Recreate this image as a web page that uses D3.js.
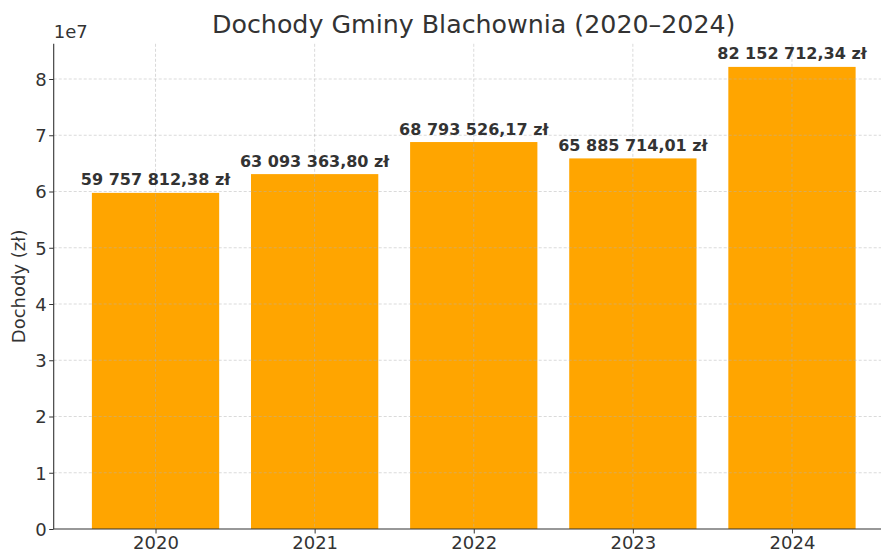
<!DOCTYPE html>
<html><head><meta charset="utf-8">
<script src="https://cdn.jsdelivr.net/npm/d3@7"></script>
<style>body{margin:0;background:#fff}svg{display:block;font-family:"DejaVu Sans",sans-serif}</style>
</head><body>
<svg id="c" width="881" height="552"></svg>
<script>
const years = ["2020","2021","2022","2023","2024"];
const values = [59757812.38, 63093363.80, 68793526.17, 65885714.01, 82152712.34];
const labels = ["59 757 812,38 zł","63 093 363,80 zł","68 793 526,17 zł","65 885 714,01 zł","82 152 712,34 zł"];
const yTicks = [0,1,2,3,4,5,6,7,8];
const title = "Dochody Gminy Blachownia (2020–2024)";
const yLabel = "Dochody (zł)";

const svg = d3.select("#c");
const L = 53.7, R = 893.8, T = 43.8, B = 529;
const x = d3.scaleLinear().domain([-0.64, 4.64]).range([L, R]);
const y = d3.scaleLinear().domain([0, 8.626e7]).range([B, T]);
const bw = x(0.4) - x(-0.4);
const text = "#333333";

// bars
svg.append("g").selectAll("rect").data(values).join("rect")
  .attr("x", (d,i) => x(i) - bw/2).attr("width", bw)
  .attr("y", d => y(d)).attr("height", d => B - y(d))
  .attr("fill", "#FFA500");

// grid
const g = svg.append("g").attr("stroke", "#b0b0b0").attr("stroke-opacity", 0.6)
  .attr("stroke-dasharray", "3,2").attr("stroke-width", 0.8);
yTicks.slice(1).forEach(t => g.append("line").attr("x1", L).attr("x2", R).attr("y1", y(t*1e7)).attr("y2", y(t*1e7)));
years.forEach((yr,i) => g.append("line").attr("x1", x(i)).attr("x2", x(i)).attr("y1", T).attr("y2", B));

// axes
const ya = svg.append("g").attr("transform", `translate(${L},0)`)
  .call(d3.axisLeft(y).tickValues(yTicks.map(t => t*1e7)).tickFormat((d,i) => yTicks[i]).tickSize(4.5).tickPadding(2.5));
const xa = svg.append("g").attr("transform", `translate(0,${B})`)
  .call(d3.axisBottom(x).tickValues(years.map((d,i) => i)).tickFormat(i => years[i]).tickSize(4.5).tickPadding(3));
[ya, xa].forEach(a => {
  a.selectAll("text").attr("font-size", 18).attr("fill", text).attr("font-family", '"DejaVu Sans",sans-serif');
  a.selectAll("line").attr("stroke", text).attr("stroke-width", 1);
  a.select(".domain").attr("stroke", text).attr("stroke-width", 1.1);
});
xa.selectAll("text").attr("dy", null).attr("y", 20);
ya.selectAll("text").attr("dy", "0.35em");
xa.select(".domain").attr("d", `M${L},0H${R}`);
ya.select(".domain").attr("d", `M0,${B}V${T}`);

// offset label
svg.append("text").attr("x", L).attr("y", 38).attr("font-size", 18).attr("fill", text).text("1e7");

// value labels
svg.append("g").selectAll("text").data(values).join("text")
  .attr("x", (d,i) => x(i)).attr("y", d => y(d) - 7.5)
  .attr("text-anchor", "middle").attr("font-size", 16).attr("font-weight", "bold").attr("fill", text)
  .text((d,i) => labels[i]);

// title
svg.append("text").attr("x", (L+R)/2).attr("y", 33.3).attr("text-anchor", "middle")
  .attr("font-size", 25.3).attr("fill", text).text(title);

// y label
svg.append("text").attr("transform", `translate(25,${(T+B)/2}) rotate(-90)`)
  .attr("text-anchor", "middle").attr("font-size", 18).attr("fill", text).text(yLabel);
</script>
</body></html>
